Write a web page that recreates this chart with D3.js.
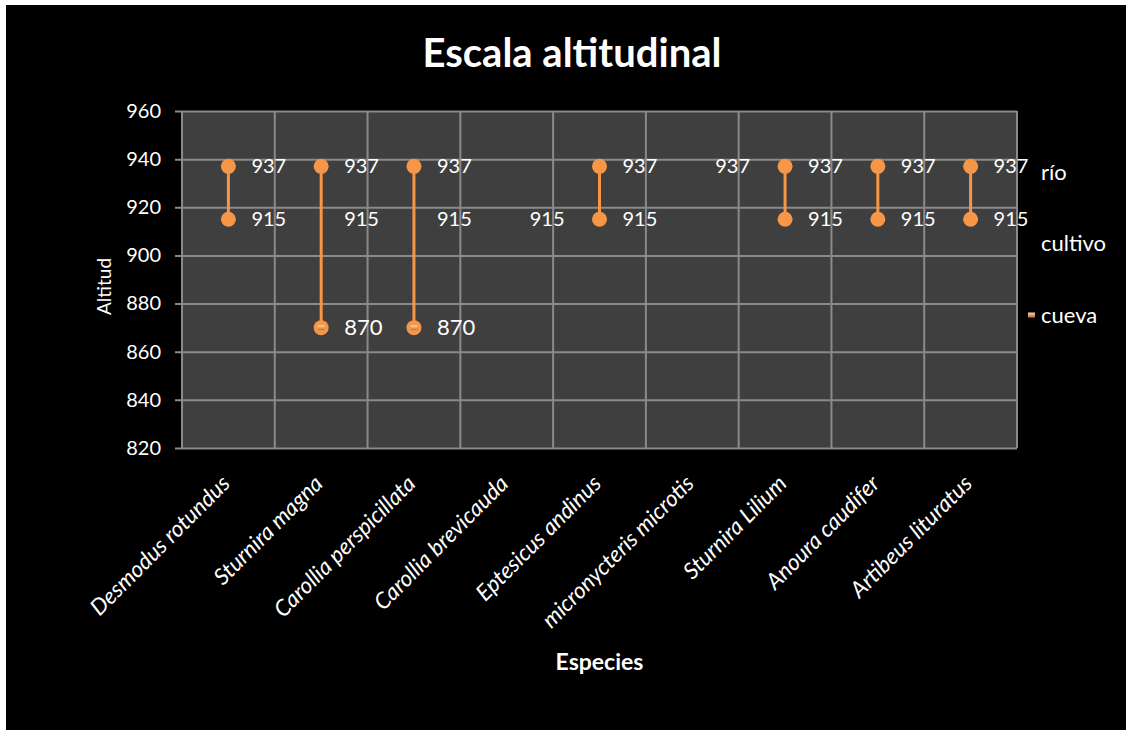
<!DOCTYPE html>
<html><head><meta charset="utf-8">
<script src="https://cdn.jsdelivr.net/npm/d3@7"></script>
<style>
html,body{margin:0;padding:0;background:#fff;}
svg{display:block;font-family:Lato, "Open Sans", sans-serif;}
</style></head>
<body>
<script>
const categories = ["Desmodus rotundus","Sturnira magna","Carollia perspicillata","Carollia brevicauda","Eptesicus andinus","micronycteris microtis","Sturnira Lilium","Anoura caudifer","Artibeus lituratus"];
const seriesNames = ["río","cultivo","cueva"];
const rio     = [937, 937, 937, null, 937, 937, 937, 937, 937];
const cultivo = [915, 915, 915, 915, 915, null, 915, 915, 915];
const cueva   = [null, 870, 870, null, null, null, null, null, null];
const yTicks = [820, 840, 860, 880, 900, 920, 940, 960];

const W = 1130, H = 732;
const M = {left:182, right:1017, top:111, bottom:448};
const orange = "#F79646", grid = "#8a8a8a", plotBg = "#3f3f3f";

const svg = d3.select("body").append("svg").attr("width", W).attr("height", H);
svg.append("rect").attr("width", W).attr("height", H).attr("fill", "#fff");
svg.append("rect").attr("x", 6).attr("y", 5).attr("width", 1120).attr("height", 725).attr("fill", "#000");

const x = d3.scaleBand().domain(categories).range([M.left, M.right]).padding(0);
const y = d3.scaleLinear().domain([820, 960]).range([M.bottom, M.top]);

svg.append("rect").attr("x", M.left).attr("y", M.top).attr("width", M.right - M.left).attr("height", M.bottom - M.top).attr("fill", plotBg);

// horizontal gridlines + ticks
const gy = svg.append("g").attr("transform", `translate(${M.left},0)`)
  .call(d3.axisLeft(y).tickValues(yTicks).tickSize(7).tickPadding(14).tickFormat(d3.format("d")));
gy.select(".domain").remove();
gy.selectAll(".tick line").attr("stroke", grid).attr("stroke-width", 2).attr("x2", M.right - M.left).attr("x1", -7);
gy.selectAll(".tick text").attr("fill", "#fff").attr("font-size", 20).attr("font-family", "Lato, sans-serif");

// vertical gridlines at category boundaries
const bounds = categories.map(c => x(c)).concat([M.right]);
svg.append("g").selectAll("line").data(bounds).join("line")
  .attr("x1", d => d).attr("x2", d => d).attr("y1", M.top).attr("y2", M.bottom)
  .attr("stroke", grid).attr("stroke-width", 2);

// data rows
const rows = categories.map((c, i) => ({c, vals: [rio[i], cultivo[i], cueva[i]]}));
const cx = c => x(c) + x.bandwidth() / 2;

// high-low lines
rows.forEach(r => {
  const v = r.vals.filter(d => d != null);
  if (v.length > 1) {
    const hi = d3.max(v), lo = d3.min(v);
    svg.append("line").attr("x1", cx(r.c)).attr("x2", cx(r.c)).attr("y1", y(hi)).attr("y2", y(lo))
      .attr("stroke", orange).attr("stroke-width", 3);
    [hi, lo].forEach(val => {
      svg.append("circle").attr("cx", cx(r.c)).attr("cy", y(val)).attr("r", 7.5).attr("fill", orange);
    });
  }
});

// cueva small square markers
const defs = svg.append("defs");
const lg = defs.append("linearGradient").attr("id", "sq").attr("x1", 0).attr("y1", 0).attr("x2", 0).attr("y2", 1);
lg.append("stop").attr("offset", "0").attr("stop-color", "#fbd3a8");
lg.append("stop").attr("offset", "1").attr("stop-color", "#c8702a");
rows.forEach((r, i) => {
  if (cueva[i] != null) {
    svg.append("rect").attr("x", cx(r.c) - 3.5).attr("y", y(cueva[i]) - 2.5).attr("width", 7).attr("height", 5)
      .attr("fill", "url(#sq)");
  }
});

// data labels
rows.forEach(r => {
  r.vals.forEach((v, si) => {
    if (v == null) return;
    svg.append("text").attr("x", cx(r.c) + 23).attr("y", y(v)).attr("dy", "0.35em")
      .attr("fill", "#fff").attr("font-size", si === 2 ? 22 : 20).text(v);
  });
});

// category labels
svg.append("g").selectAll("text").data(categories).join("text")
  .attr("transform", d => `translate(${cx(d) + 3},${M.bottom + 37}) rotate(-45)`)
  .attr("text-anchor", "end").attr("fill", "#fff").attr("font-size", 22.5).attr("font-style", "italic")
  .text(d => d);

// titles
svg.append("text").attr("x", 572).attr("y", 67).attr("text-anchor", "middle")
  .attr("fill", "#fff").attr("font-size", 40).attr("font-weight", "bold").text("Escala altitudinal");
svg.append("text").attr("x", (M.left + M.right) / 2).attr("y", 670).attr("text-anchor", "middle")
  .attr("fill", "#fff").attr("font-size", 23).attr("font-weight", "bold").text("Especies");
svg.append("text").attr("transform", `translate(111,${(M.top + M.bottom) / 2 + 7}) rotate(-90)`).attr("text-anchor", "middle")
  .attr("fill", "#fff").attr("font-size", 19).text("Altitud");

// legend
const legY = [172, 243, 315];
const leg = svg.append("g").selectAll("g").data(seriesNames).join("g")
  .attr("transform", (d, i) => `translate(1041,${legY[i]})`);
leg.append("text").attr("dy", "0.35em").attr("fill", "#fff").attr("font-size", 22).text(d => d);
leg.filter((d, i) => i === 2).append("rect").attr("x", -13).attr("y", -2.5).attr("width", 7).attr("height", 5).attr("fill", "url(#sq)");
</script>
</body></html>
